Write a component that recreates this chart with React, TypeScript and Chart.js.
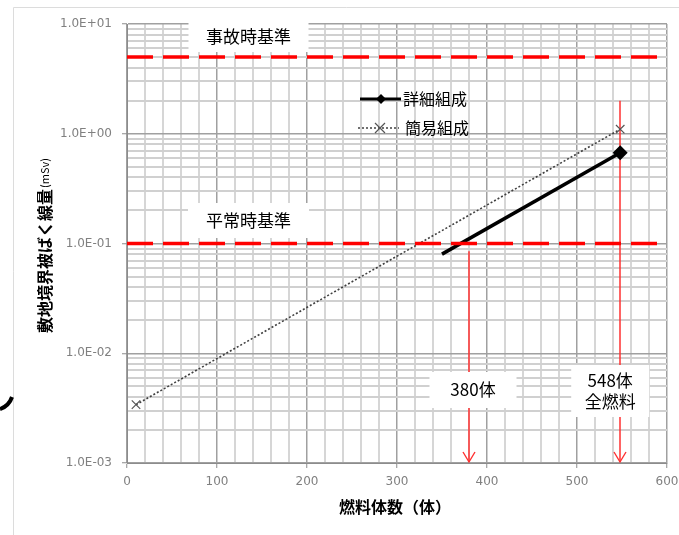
import React, { useEffect, useRef } from "react";
import { Chart, registerables } from "chart.js";

Chart.register(...registerables);

// ---- data ----
const seriesNames = ["詳細組成", "簡易組成"];
const detailX = [350, 548];
const detailY = [0.08, 0.67];
const simpleX = [10, 548];
const simpleY = [0.0034, 1.1];

const refNames = ["事故時基準", "平常時基準"];
const refValues = [5.0, 0.1];
const refXRange = [0, 600];

const arrowX = [380, 548];
const arrowTopY = [0.085, 2.0];
const arrowLabels = [["380体"], ["548体", "全燃料"]];

const xMin = 0;
const xMax = 600;
const xMajorStep = 100;
const xMinorStep = 20;
const yDecades = [0.001, 0.01, 0.1, 1, 10];
const yTickLabels = ["1.0E-03", "1.0E-02", "1.0E-01", "1.0E+00", "1.0E+01"];
const yMinorMultipliers = [2, 3, 4, 5, 6, 7, 8, 9];

const xTitle = "燃料体数（体）";
const yTitleMain = "敷地境界被ばく線量";
const yTitleUnit = "(mSv)";

const CJK = '"Noto Sans CJK JP", "Noto Sans", sans-serif';
const TICKFONT = '"DejaVu Sans", sans-serif';

const isDecade = (v: number) => yDecades.some((d) => Math.abs(v / d - 1) < 1e-6);

const annotationPlugin = {
  id: "annots",
  beforeDraw(chart: any) {
    const ctx = chart.ctx;
    ctx.save();
    ctx.fillStyle = "#ffffff";
    ctx.fillRect(0, 0, chart.width, chart.height);
    // outer frame
    ctx.strokeStyle = "#dcdcdc";
    ctx.lineWidth = 1;
    ctx.beginPath();
    ctx.moveTo(13.5, chart.height);
    ctx.lineTo(13.5, 7.5);
    ctx.lineTo(chart.width, 7.5);
    ctx.stroke();
    // stray arc at left edge
    ctx.strokeStyle = "#000";
    ctx.lineWidth = 4;
    ctx.beginPath();
    ctx.moveTo(12, 397);
    ctx.quadraticCurveTo(9, 406, 0, 409);
    ctx.stroke();
    ctx.restore();
  },
  beforeDatasetsDraw(chart: any) {
    const ctx = chart.ctx;
    const xs = chart.scales.x;
    const ys = chart.scales.y;
    const bottom = chart.chartArea.bottom;
    ctx.save();
    // arrows
    ctx.strokeStyle = "#ff3030";
    arrowX.forEach((xv, i) => {
      const px = Math.round(xs.getPixelForValue(xv));
      const top = ys.getPixelForValue(arrowTopY[i]);
      ctx.lineWidth = 1.5;
      ctx.beginPath();
      ctx.moveTo(px, top);
      ctx.lineTo(px, bottom - 1);
      ctx.stroke();
      ctx.lineWidth = 1.4;
      ctx.beginPath();
      ctx.moveTo(px - 6, bottom - 11);
      ctx.lineTo(px, bottom - 1);
      ctx.lineTo(px + 6, bottom - 11);
      ctx.stroke();
    });
    // text boxes
    const box = (cx: number, cy: number, w: number, h: number, lines: string[], lh: number) => {
      ctx.fillStyle = "#ffffff";
      ctx.fillRect(cx - w / 2, cy - h / 2, w, h);
      ctx.fillStyle = "#000";
      ctx.font = `17px ${CJK}`;
      ctx.textAlign = "center";
      ctx.textBaseline = "middle";
      const start = cy - ((lines.length - 1) * lh) / 2;
      lines.forEach((t, k) => ctx.fillText(t, cx, start + k * lh));
    };
    const refBoxX = xs.getPixelForValue(135);
    box(refBoxX, ys.getPixelForValue(refValues[0]) - 20, 120, 30, [refNames[0]], 21);
    box(refBoxX, ys.getPixelForValue(refValues[1]) - 23, 121, 35, [refNames[1]], 21);
    box(xs.getPixelForValue(arrowX[0]) + 4, 390, 87, 36, arrowLabels[0], 21);
    box(xs.getPixelForValue(arrowX[1]) - 10, 391, 78, 52, arrowLabels[1], 21);
    ctx.restore();
  },
  afterDraw(chart: any) {
    const ctx = chart.ctx;
    ctx.save();
    // legend
    const lx0 = 360;
    const ly = [99, 128];
    ctx.strokeStyle = "#000";
    ctx.lineWidth = 3;
    ctx.beginPath();
    ctx.moveTo(lx0, ly[0]);
    ctx.lineTo(lx0 + 41, ly[0]);
    ctx.stroke();
    ctx.fillStyle = "#000";
    ctx.beginPath();
    const dx = lx0 + 21;
    ctx.moveTo(dx, ly[0] - 5);
    ctx.lineTo(dx + 5, ly[0]);
    ctx.lineTo(dx, ly[0] + 5);
    ctx.lineTo(dx - 5, ly[0]);
    ctx.closePath();
    ctx.fill();
    ctx.strokeStyle = "#404040";
    ctx.lineWidth = 1.5;
    ctx.setLineDash([2, 2]);
    ctx.beginPath();
    ctx.moveTo(lx0 - 2, ly[1]);
    ctx.lineTo(lx0 + 39, ly[1]);
    ctx.stroke();
    ctx.setLineDash([]);
    ctx.strokeStyle = "#555";
    ctx.lineWidth = 1.2;
    const cx = lx0 + 20;
    ctx.beginPath();
    ctx.moveTo(cx - 5, ly[1] - 5);
    ctx.lineTo(cx + 5, ly[1] + 5);
    ctx.moveTo(cx + 5, ly[1] - 5);
    ctx.lineTo(cx - 5, ly[1] + 5);
    ctx.stroke();
    ctx.fillStyle = "#000";
    ctx.font = `16px ${CJK}`;
    ctx.textAlign = "left";
    ctx.textBaseline = "middle";
    ctx.fillText(seriesNames[0], lx0 + 43, ly[0]);
    ctx.fillText(seriesNames[1], lx0 + 45, ly[1]);

    // axis titles
    ctx.font = `bold 16px ${CJK}`;
    ctx.textAlign = "center";
    ctx.fillText(xTitle, 395, 507);
    ctx.translate(45, 333);
    ctx.rotate(-Math.PI / 2);
    ctx.textAlign = "left";
    ctx.font = `bold 16px ${CJK}`;
    ctx.fillText(yTitleMain, 0, 0);
    const w = ctx.measureText(yTitleMain).width;
    ctx.font = `11px ${CJK}`;
    ctx.fillText(yTitleUnit, w + 1, 0);
    ctx.restore();
  },
};

export default function App() {
  const ref = useRef<HTMLCanvasElement | null>(null);
  useEffect(() => {
    if (!ref.current) return;
    const toPts = (xs: number[], ys: number[]) => xs.map((x, i) => ({ x, y: ys[i] }));
    const chart = new Chart(ref.current, {
      type: "line",
      data: {
        datasets: [
          {
            label: refNames[0],
            data: refXRange.map((x) => ({ x, y: refValues[0] })),
            borderColor: "#ff0000",
            borderWidth: 3.5,
            borderDash: [26, 10],
            borderCapStyle: "butt",
            pointRadius: 0,
          },
          {
            label: refNames[1],
            data: refXRange.map((x) => ({ x, y: refValues[1] })),
            borderColor: "#ff0000",
            borderWidth: 3.5,
            borderDash: [26, 10],
            borderCapStyle: "butt",
            pointRadius: 0,
          },
          {
            label: seriesNames[1],
            data: toPts(simpleX, simpleY),
            borderColor: "#404040",
            borderWidth: 1.6,
            borderDash: [2, 2],
            pointStyle: "crossRot",
            pointRadius: 6,
            pointBorderColor: "#555",
            pointBorderWidth: 1.2,
          },
          {
            label: seriesNames[0],
            data: toPts(detailX, detailY),
            borderColor: "#000",
            borderWidth: 3.5,
            pointStyle: "rectRot",
            pointRadius: [0, 5],
            pointBackgroundColor: "#000",
            pointBorderColor: "#000",
          },
        ],
      },
      options: {
        animation: false,
        responsive: false,
        maintainAspectRatio: false,
        layout: { autoPadding: false, padding: { left: 0, right: 12, top: 24, bottom: 0 } },
        plugins: { legend: { display: false }, tooltip: { enabled: false } },
        elements: { line: { tension: 0 } },
        scales: {
          x: {
            type: "linear",
            min: xMin,
            max: xMax,
            afterBuildTicks: (s: any) => {
              const t = [];
              for (let v = xMin; v <= xMax; v += xMinorStep) t.push({ value: v });
              s.ticks = t;
            },
            afterFit: (s: any) => {
              s.height = 72;
              s.paddingLeft = 0;
              s.paddingRight = 0;
              s.paddingTop = 0;
              s.paddingBottom = 0;
            },
            ticks: {
              autoSkip: false,
              maxRotation: 0,
              padding: 7,
              color: "#808080",
              font: { family: TICKFONT, size: 12 },
              callback: (v: any) => (Number(v) % xMajorStep === 0 ? String(v) : ""),
            },
            grid: {
              color: (c: any) => (c.tick && c.tick.value % xMajorStep === 0 ? "#a0a0a0" : "#d6d6d6"),
              lineWidth: (c: any) => (c.tick && c.tick.value % xMajorStep === 0 ? 1.5 : 2),
              tickColor: (c: any) => (c.tick && c.tick.value % xMajorStep === 0 ? "#8c8c8c" : "rgba(0,0,0,0)"),
              tickLength: 5,
              tickWidth: 1,
            },
            border: { color: "#8c8c8c", width: 1 },
          },
          y: {
            type: "logarithmic",
            min: yDecades[0],
            max: yDecades[yDecades.length - 1],
            afterBuildTicks: (s: any) => {
              const t: any[] = [];
              for (let i = 0; i < yDecades.length; i++) {
                t.push({ value: yDecades[i], major: true });
                if (i < yDecades.length - 1) yMinorMultipliers.forEach((m) => t.push({ value: yDecades[i] * m }));
              }
              s.ticks = t;
            },
            afterFit: (s: any) => {
              s.width = 127;
              s.paddingTop = 0;
              s.paddingBottom = 0;
            },
            ticks: {
              autoSkip: false,
              padding: 10,
              color: "#808080",
              font: { family: TICKFONT, size: 12 },
              callback: (v: any) => {
                const idx = yDecades.findIndex((d) => Math.abs(Number(v) / d - 1) < 1e-6);
                return idx >= 0 ? yTickLabels[idx] : "";
              },
            },
            grid: {
              color: (c: any) => (c.tick && isDecade(c.tick.value) ? "#a0a0a0" : "#d0d0d0"),
              lineWidth: (c: any) => (c.tick && isDecade(c.tick.value) ? 1.5 : 2),
              tickColor: (c: any) => (c.tick && isDecade(c.tick.value) ? "#8c8c8c" : "rgba(0,0,0,0)"),
              tickLength: 5,
              tickWidth: 1,
            },
            border: { color: "#8c8c8c", width: 1 },
          },
        },
      } as any,
      plugins: [annotationPlugin],
    });
    return () => chart.destroy();
  }, []);
  return (
    <div style={{ position: "fixed", left: 0, top: 0, width: 679, height: 535, background: "#fff" }}>
      <canvas ref={ref} width={679} height={535} style={{ width: 679, height: 535, display: "block" }} />
    </div>
  );
}
